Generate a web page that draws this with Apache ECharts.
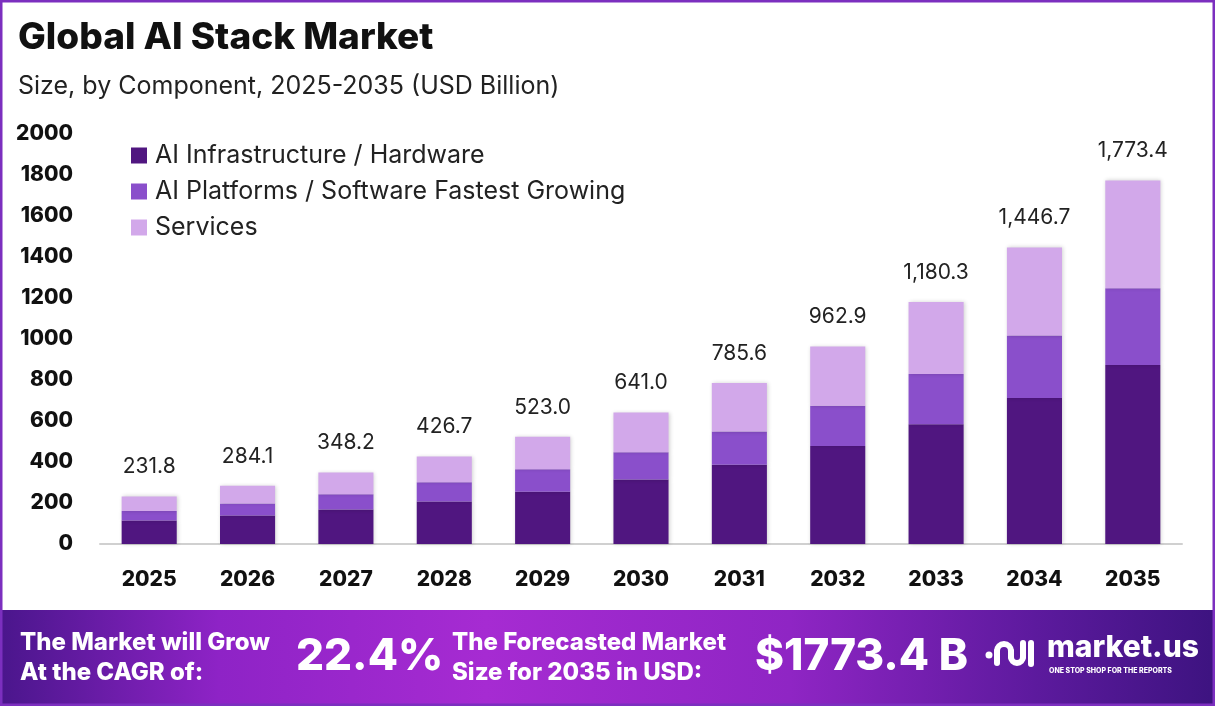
<!DOCTYPE html>
<html>
<head>
<meta charset="utf-8">
<script src="https://cdn.jsdelivr.net/npm/echarts@6/dist/echarts.min.js"></script>
<style>
  html, body { margin: 0; padding: 0; background: #fff; }
  #main { width: 1215px; height: 706px; }
</style>
</head>
<body>
<div id="main"></div>
<script>
var years = ["2025", "2026", "2027", "2028", "2029", "2030", "2031", "2032", "2033", "2034", "2035"];
var infra = [114.6, 139.2, 168.1, 207.4, 255.3, 314.1, 386.2, 477.8, 583.9, 711.8, 873.7];
var platforms = [46.9, 58.7, 74.3, 93.6, 109.1, 134.0, 162.5, 196.4, 245.6, 305.2, 374.1];
var services = [70.3, 86.2, 105.8, 125.7, 158.6, 192.9, 236.9, 288.7, 350.8, 429.7, 525.6];
var totals = [231.8, 284.1, 348.2, 426.7, 523.0, 641.0, 785.6, 962.9, 1180.3, 1446.7, 1773.4];
var seriesNames = ["AI Infrastructure / Hardware", "AI Platforms / Software Fastest Growing", "Services"];
var colors = ["#501680", "#8a4fcb", "#d2a8ea"];

var font = "Inter, 'Noto Sans', sans-serif";

var chartDom = document.getElementById("main");
var myChart = echarts.init(chartDom, null, { renderer: "canvas" });

function fmtTotal(v) {
  return v.toLocaleString("en-US", { minimumFractionDigits: 1, maximumFractionDigits: 1 });
}

var barStyle = {
  shadowBlur: 4,
  shadowColor: "rgba(0,0,0,0.18)",
  shadowOffsetX: 1,
  shadowOffsetY: 0
};

// white strokes for the little logo mark
var logoStroke = { fill: "none", stroke: "#fff", lineWidth: 6, lineCap: "round" };

var footText = {
  fill: "#fff",
  font: "800 24px " + font,
  lineHeight: 30,
  shadowBlur: 3,
  shadowColor: "rgba(0,0,0,0.35)",
  shadowOffsetY: 2
};

var option = {
  backgroundColor: "#ffffff",
  animation: false,
  textStyle: { fontFamily: font },
  title: [
    {
      text: "Global AI Stack Market",
      left: 13,
      top: 14,
      textStyle: { fontFamily: font, fontSize: 37, fontWeight: 800, color: "#111" }
    },
    {
      text: "Size, by Component, 2025-2035 (USD Billion)",
      left: 13,
      top: 69,
      textStyle: { fontFamily: font, fontSize: 25, fontWeight: 400, color: "#222" }
    }
  ],
  legend: {
    orient: "vertical",
    left: 126,
    top: 138,
    itemWidth: 16,
    itemHeight: 16,
    itemGap: 11,
    icon: "rect",
    data: seriesNames,
    textStyle: { fontFamily: font, fontSize: 25, color: "#222", padding: [0, 0, 0, 3] }
  },
  grid: { left: 100, right: 33, top: 134, bottom: 162, containLabel: false },
  xAxis: {
    type: "category",
    data: years,
    axisLine: { lineStyle: { color: "#d0d0d0", width: 2 } },
    axisTick: { show: false },
    axisLabel: { fontFamily: font, fontSize: 21, fontWeight: 800, color: "#111", margin: 25 }
  },
  yAxis: {
    type: "value",
    min: 0,
    max: 2000,
    interval: 200,
    splitLine: { show: false },
    axisLine: { show: false },
    axisTick: { show: false },
    axisLabel: {
      fontFamily: font, fontSize: 21, fontWeight: 800, color: "#111", margin: 27,
      formatter: function (v) { return String(v); }
    }
  },
  series: [
    {
      name: seriesNames[0],
      type: "bar",
      stack: "total",
      barWidth: "56%",
      data: infra,
      itemStyle: Object.assign({ color: colors[0] }, barStyle)
    },
    {
      name: seriesNames[1],
      type: "bar",
      stack: "total",
      data: platforms,
      itemStyle: Object.assign({ color: colors[1] }, barStyle)
    },
    {
      name: seriesNames[2],
      type: "bar",
      stack: "total",
      data: services,
      itemStyle: Object.assign({ color: colors[2] }, barStyle),
      label: {
        show: true,
        position: "top",
        distance: 19,
        fontFamily: font,
        fontSize: 21,
        color: "#222",
        formatter: function (p) { return fmtTotal(totals[p.dataIndex]); }
      }
    }
  ],
  graphic: [
    {
      type: "rect",
      shape: { x: 0, y: 610, width: 1215, height: 96 },
      style: {
        fill: new echarts.graphic.LinearGradient(0, 0, 1, 0, [
          { offset: 0, color: "#4a168c" },
          { offset: 0.18, color: "#8e23c6" },
          { offset: 0.4, color: "#a62bd2" },
          { offset: 0.65, color: "#8f25c4" },
          { offset: 0.85, color: "#5d1a9e" },
          { offset: 1, color: "#3d1380" }
        ])
      },
      z: 10
    },
    {
      type: "rect",
      shape: { x: 1, y: 1, width: 1213, height: 704 },
      style: { fill: "none", stroke: "#7c2fbf", lineWidth: 3 },
      z: 11
    },
    {
      type: "text",
      x: 20,
      y: 628,
      style: Object.assign({ text: "The Market will Grow\nAt the CAGR of:" }, footText),
      z: 12
    },
    {
      type: "text",
      x: 296,
      y: 635,
      style: {
        text: "22.4%",
        fill: "#fff",
        font: "800 44px " + font,
        shadowBlur: 4,
        shadowColor: "rgba(0,0,0,0.4)",
        shadowOffsetY: 3
      },
      z: 12
    },
    {
      type: "text",
      x: 452,
      y: 628,
      style: Object.assign({ text: "The Forecasted Market\nSize for 2035 in USD:" }, footText),
      z: 12
    },
    {
      type: "text",
      x: 755,
      y: 635,
      style: {
        text: "$1773.4 B",
        fill: "#fff",
        font: "800 44px " + font,
        shadowBlur: 4,
        shadowColor: "rgba(0,0,0,0.4)",
        shadowOffsetY: 3
      },
      z: 12
    },
    { type: "circle", shape: { cx: 989, cy: 655, r: 3.5 }, style: { fill: "#fff" }, z: 12 },
    { type: "line", shape: { x1: 997, y1: 651, x2: 997, y2: 663 }, style: logoStroke, z: 12 },
    { type: "arc", shape: { cx: 1004, cy: 651, r: 7, startAngle: Math.PI, endAngle: Math.PI * 2, clockwise: true }, style: logoStroke, z: 12 },
    { type: "line", shape: { x1: 1011, y1: 651, x2: 1011, y2: 657 }, style: logoStroke, z: 12 },
    { type: "arc", shape: { cx: 1017, cy: 657, r: 6, startAngle: 0, endAngle: Math.PI, clockwise: true }, style: logoStroke, z: 12 },
    { type: "line", shape: { x1: 1023, y1: 643, x2: 1023, y2: 657 }, style: logoStroke, z: 12 },
    { type: "line", shape: { x1: 1031, y1: 643, x2: 1031, y2: 664 }, style: logoStroke, z: 12 },
    {
      type: "text",
      x: 1047,
      y: 633,
      style: { text: "market.us", fill: "#fff", font: "800 30px " + font },
      z: 12
    },
    {
      type: "text",
      x: 1049,
      y: 667,
      style: { text: "ONE STOP SHOP FOR THE REPORTS", fill: "#fff", font: "800 7px " + font },
      z: 12
    }
  ]
};

option && myChart.setOption(option);
</script>
</body>
</html>
